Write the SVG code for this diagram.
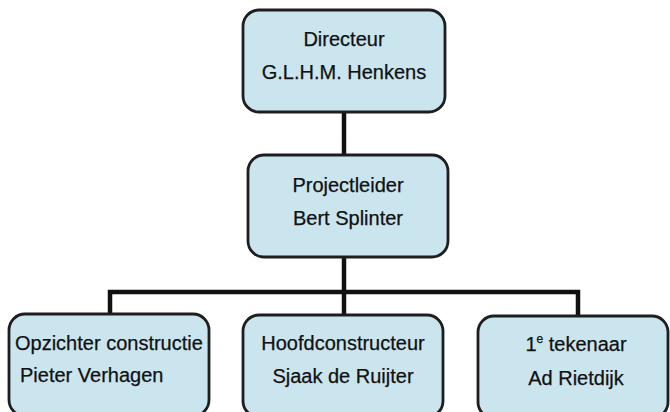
<svg xmlns="http://www.w3.org/2000/svg" width="670" height="412" viewBox="0 0 670 412">
<style>
.box{fill:#cbe5ef;stroke:#1e1e1e;stroke-width:2.8}
.t{font-family:"Liberation Sans",Arial,sans-serif;font-size:20px;fill:#111;stroke:#111;stroke-width:0.25}
.c{text-anchor:middle}
.ln{stroke:#111;stroke-width:4.5;fill:none;stroke-linejoin:miter}
</style>
<rect width="670" height="412" fill="#ffffff"/>
<g id="connectors">
<line class="ln" x1="344" y1="112" x2="344" y2="155"/>
<line class="ln" x1="344" y1="257" x2="344" y2="315"/>
<polyline class="ln" points="110,314 110,292 578,292 578,316"/>
</g>
<g id="directeur">
<rect class="box" x="243" y="10" width="202" height="102" rx="16"/>
<text class="t c" x="344" y="46">Directeur</text>
<text class="t c" x="344" y="79">G.L.H.M. Henkens</text>
</g>
<g id="projectleider">
<rect class="box" x="248" y="155" width="200" height="102" rx="16"/>
<text class="t c" x="348" y="192">Projectleider</text>
<text class="t c" x="348" y="225">Bert Splinter</text>
</g>
<g id="opzichter">
<rect class="box" x="9" y="314" width="200" height="102" rx="16"/>
<text class="t" x="15" y="350">Opzichter constructie</text>
<text class="t" x="20" y="382">Pieter Verhagen</text>
</g>
<g id="hoofdconstructeur">
<rect class="box" x="243" y="315" width="200" height="102" rx="16"/>
<text class="t c" x="343" y="350">Hoofdconstructeur</text>
<text class="t c" x="343" y="383">Sjaak de Ruijter</text>
</g>
<g id="tekenaar">
<rect class="box" x="478" y="316" width="190" height="102" rx="16"/>
<text class="t c" x="576" y="351">1<tspan font-size="12px" dy="-8">e</tspan><tspan dy="8"> tekenaar</tspan></text>
<text class="t c" x="576" y="385">Ad Rietdijk</text>
</g>
</svg>
